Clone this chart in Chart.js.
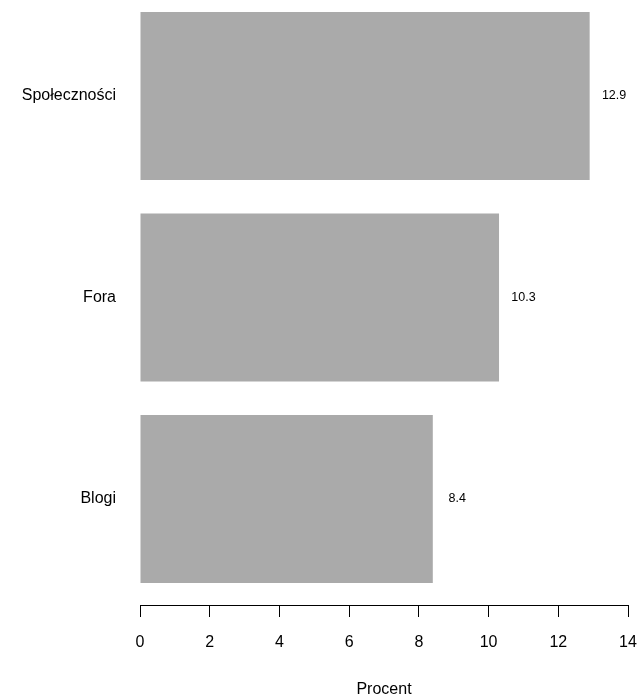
<!DOCTYPE html>
<html>
<head>
<meta charset="utf-8">
<script src="https://cdn.jsdelivr.net/npm/chart.js@4"></script>
<style>
  html, body { margin: 0; padding: 0; background: #fff; }
  canvas { display: block; }
</style>
</head>
<body>
<canvas id="chart" width="638" height="696"></canvas>
<script>
// Data
const categories = ['Społeczności', 'Fora', 'Blogi'];
const values = [12.9, 10.3, 8.4];
const xMin = 0, xMax = 14, xStep = 2;
const axisTitle = 'Procent';

const FONT = "'Liberation Sans', Arial, Helvetica, sans-serif";

// Value text drawn to the right of each bar
const valueLabels = {
    id: 'valueLabels',
    afterDatasetsDraw(chart) {
        const { ctx, scales } = chart;
        ctx.save();
        ctx.font = `12.5px ${FONT}`;
        ctx.fillStyle = '#000';
        ctx.textAlign = 'center';
        ctx.textBaseline = 'middle';
        values.forEach((v, i) => {
            const x = scales.x.getPixelForValue(v + 0.7);
            const y = scales.y.getPixelForValue(i);
            ctx.fillText(v.toFixed(1), x, y);
        });
        ctx.restore();
    }
};

new Chart(document.getElementById('chart'), {
    type: 'bar',
    data: {
        datasets: [{
            data: values.map((v, i) => ({ x: v, y: i })),
            backgroundColor: '#aaaaaa',
            borderWidth: 0,
            barPercentage: 0.834,
            categoryPercentage: 1
        }]
    },
    options: {
        indexAxis: 'y',
        responsive: false,
        animation: false,
        layout: { padding: { left: 0, right: 10, top: 0, bottom: 0 } },
        plugins: {
            legend: { display: false },
            tooltip: { enabled: false }
        },
        scales: {
            y: {
                type: 'linear',
                reverse: true,
                offset: false,
                min: -0.476,
                max: 2.526,
                afterBuildTicks: s => { s.ticks = categories.map((c, i) => ({ value: i })); },
                afterFit: s => { s.width = 140; s.paddingTop = 0; s.paddingBottom = 0; },
                grid: { display: false, drawTicks: false },
                border: { display: false },
                ticks: {
                    padding: 24,
                    color: '#000',
                    font: { family: FONT, size: 16 },
                    callback: v => categories[v] ?? ''
                }
            },
            x: {
                type: 'linear',
                min: xMin,
                max: xMax,
                afterFit: s => { s.height = 91; s.paddingLeft = 0; s.paddingRight = 0; },
                grid: {
                    drawOnChartArea: false,
                    drawTicks: true,
                    tickLength: 12,
                    color: '#000',
                    lineWidth: 1
                },
                border: { display: true, color: '#000', width: 1 },
                ticks: {
                    stepSize: xStep,
                    padding: 16,
                    color: '#000',
                    font: { family: FONT, size: 16 },
                    maxRotation: 0
                },
                title: {
                    display: true,
                    text: axisTitle,
                    color: '#000',
                    font: { family: FONT, size: 16, lineHeight: 1 },
                    padding: { top: 12, bottom: -1.5 }
                }
            }
        }
    },
    plugins: [valueLabels]
});
</script>
</body>
</html>
